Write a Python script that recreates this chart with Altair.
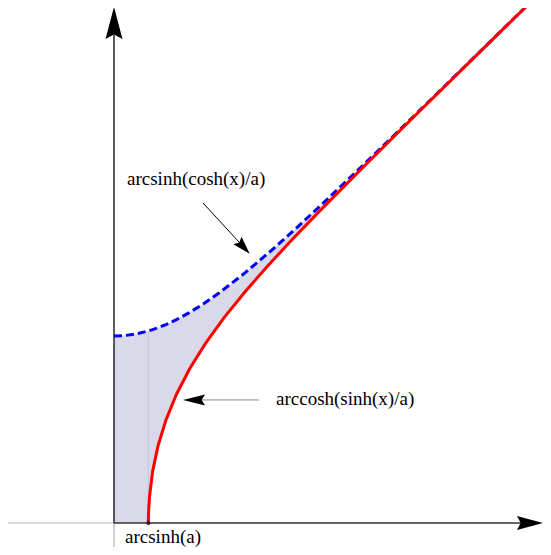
import altair as alt
import pandas as pd

# ---- data (a = 1/3) ----
grid_x = [0, 0.1, 0.2, 0.3275, 0.33, 0.34, 0.36, 0.4, 0.45, 0.5, 0.6, 0.7, 0.85,
          1.0, 1.25, 1.5, 1.75, 2.0, 2.5, 3.0, 3.5, 3.92]
blue_y = [1.8184, 1.8232, 1.8373, 1.8685, 1.8692, 1.8723, 1.8787, 1.8926, 1.9119,
          1.9330, 1.9811, 2.0362, 2.1306, 2.2370, 2.4352, 2.6522, 2.8815, 3.1188,
          3.6060, 4.1013, 4.5997, 5.0190]
red_floor = [0, 0, 0, 0, 0.1269, 0.2811, 0.4513, 0.6690, 0.8630, 1.0170, 1.2633,
             1.4633, 1.7150, 1.9324, 2.2520, 2.5413, 2.8143, 3.0780, 3.5911, 4.0958,
             4.5975, 5.0182]

red_y = [0, 0.05, 0.1, 0.25, 0.5, 0.75, 1, 1.25, 1.5, 1.75, 2, 2.25, 2.5, 2.75, 3,
         3.5, 4, 4.5, 5.0182]
red_x = [0.3275, 0.3279, 0.3290, 0.3374, 0.3675, 0.4192, 0.4940, 0.5940, 0.7202,
         0.8729, 1.0502, 1.2484, 1.4632, 1.6901, 1.9254, 2.4104, 2.9047, 3.4026, 3.92]

x0_value = 0.3275
x0_top = 1.8685

labels = ["arcsinh(cosh(x)/a)", "arccosh(sinh(x)/a)", "arcsinh(a)"]
label_x = [0.124, 1.543, 0.105]
label_y = [3.288, 1.148, -0.190]

# ---- scales (page pixels: x 8..543, y 8..547) ----
X_DOM = [-1.0095, 4.0857]
Y_DOM = [-0.2335, 5.0097]
xs = alt.Scale(domain=X_DOM, nice=False, zero=False)
ys = alt.Scale(domain=Y_DOM, nice=False, zero=False)

area_df = pd.DataFrame({"x": grid_x, "top": blue_y, "bottom": red_floor})
red_df = pd.DataFrame({"x": red_x, "y": red_y})


def X(f):
    return alt.X(f, type="quantitative", scale=xs, axis=None)


def Y(f):
    return alt.Y(f, type="quantitative", scale=ys, axis=None)


def seg(x, x2, y, y2, color, width):
    df = pd.DataFrame({"x": [x], "x2": [x2], "y": [y], "y2": [y2]})
    return alt.Chart(df).mark_rule(color=color, strokeWidth=width).encode(
        x=X("x"), x2="x2", y=Y("y"), y2="y2")


area = alt.Chart(area_df).mark_area(color="#d9d9ea", opacity=1).encode(
    x=X("x"), y=Y("top"), y2="bottom")

guide = seg(x0_value, x0_value, 0, x0_top, "#c4c4d2", 1)

ax_left = seg(X_DOM[0], 0, 0, 0, "#b4b4b4", 1.2)
ax_below = seg(0, 0, Y_DOM[0], 0, "#b4b4b4", 1.2)
ax_x = seg(0, 3.90, 0, 0, "#333333", 1.6)
ax_y = seg(0, 0, 0, 4.747, "#333333", 1.6)

blue = alt.Chart(area_df).mark_line(color="#0000ff", strokeWidth=3,
                                    strokeDash=[8, 4]).encode(x=X("x"), y=Y("top"))
red = alt.Chart(red_df).mark_line(color="#ff0000", strokeWidth=3).encode(
    x=X("x"), y=Y("y"), order="y:Q")

dot = alt.Chart(pd.DataFrame({"x": [x0_value], "y": [0]})).mark_point(
    filled=True, color="#222", size=16, opacity=1).encode(x=X("x"), y=Y("y"))

shaft1 = seg(0.848, 1.240, 3.113, 2.678, "#000000", 1)
shaft2 = seg(1.381, 0.819, 1.197, 1.197, "#8c8c8c", 1)

UP = "M0,-1 L0.53,1 L0,0.72 L-0.53,1 Z"
RIGHT = "M1,0 L-1,0.53 L-0.72,0 L-1,-0.53 Z"
HEAD = "M0,-1 L0.62,1 L0,0.7 L-0.62,1 Z"


def head(x, y, shape, size, angle=0):
    return alt.Chart(pd.DataFrame({"x": [x], "y": [y]})).mark_point(
        shape=shape, filled=True, color="black", opacity=1, size=size,
        angle=angle, strokeWidth=0).encode(x=X("x"), y=Y("y"))


yarrow = head(0, 4.864, UP, 1024)
xarrow = head(3.962, 0, RIGHT, 676)
head1 = head(1.234, 2.684, HEAD, 324, 137)
head2 = head(0.762, 1.197, "M0,-1 L0.5,1 L0,0.7 L-0.5,1 Z", 484, 270)

text_df = pd.DataFrame({"t": labels, "x": label_x, "y": label_y})
texts = alt.Chart(text_df).mark_text(
    align="left", baseline="alphabetic",
    font="Liberation Serif, Times New Roman, serif",
    fontSize=19, color="black").encode(x=X("x"), y=Y("y"), text="t:N")

chart = alt.layer(area, guide, ax_left, ax_below, ax_x, ax_y, blue, red, dot,
                  shaft1, shaft2, yarrow, xarrow, head1, head2, texts).properties(
    width=535, height=539, padding=0,
    autosize=alt.AutoSizeParams(type="none"),
).configure_view(stroke=None)

chart.save("out.html", embed_options={"renderer": "svg", "actions": False})
